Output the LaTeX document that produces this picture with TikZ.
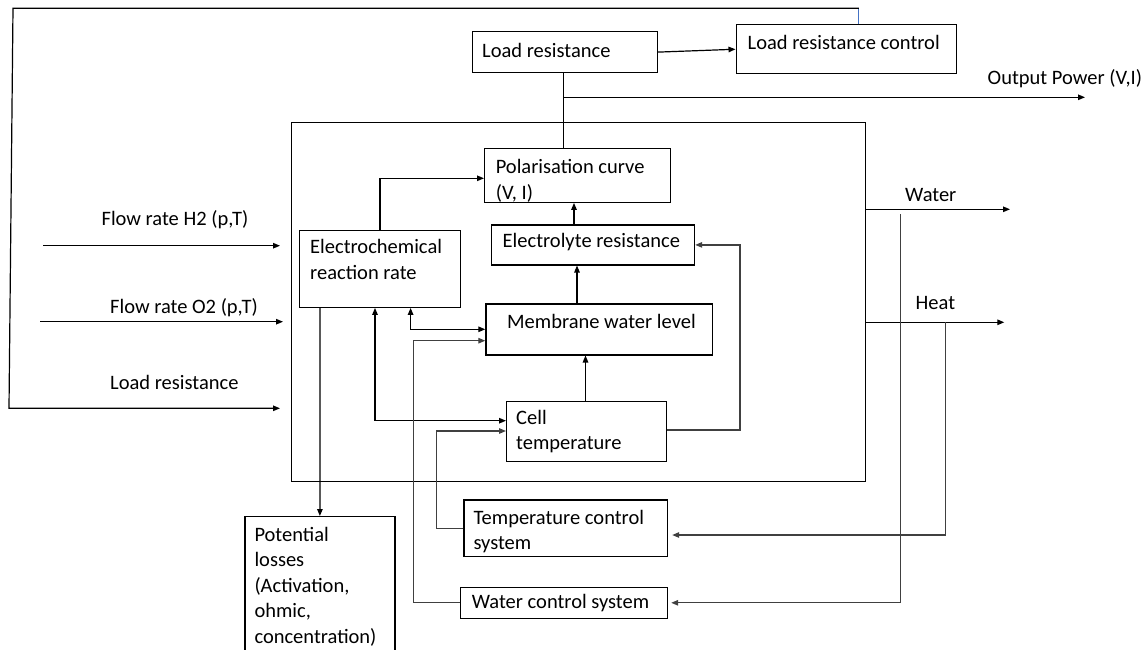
\documentclass[tikz,border=0pt]{standalone}
\usepackage{fontspec}
\setmainfont{Carlito}
\usetikzlibrary{arrows.meta}
\definecolor{lblue}{RGB}{68,114,196}
\begin{document}
\begin{tikzpicture}[x=1pt,y=-1pt,
  box/.style={draw, line width=1.2pt, inner sep=0pt, anchor=north west},
  txt/.style={anchor=north west, inner sep=0pt, align=left, font=\fontsize{20.5}{25.5}\selectfont},
  ln/.style={line width=1.2pt},
  arr/.style={line width=1.2pt, -{Triangle[length=7pt,width=5.5pt]}},
  dbl/.style={line width=1.2pt, {Triangle[length=7pt,width=5.5pt]}-{Triangle[length=7pt,width=5.5pt]}},
  fb/.style={draw=black!75},
]
\useasboundingbox (0,0) rectangle (1148,650);
% boxes
\node[box, minimum width=185pt, minimum height=41pt] (lr) at (472,31) {};
\node[box, minimum width=220.5pt, minimum height=48.7pt] (lrc) at (735.5,24.3) {};
\node[box, minimum width=573.5pt, minimum height=358.7pt] (main) at (291,122.3) {};
\node[box, minimum width=186pt, minimum height=54pt] (pol) at (484,147.7) {};
\node[box, minimum width=161pt, minimum height=76.7pt] (ec) at (299,230) {};
\node[box, minimum width=203pt, minimum height=40pt] (el) at (491,224.3) {};
\node[box, minimum width=226.7pt, minimum height=51pt] (mw) at (485.3,303.3) {};
\node[box, minimum width=159.7pt, minimum height=59.7pt] (ct) at (506,401) {};
\node[box, minimum width=203.7pt, minimum height=56.7pt] (tcs) at (463.3,499.3) {};
\node[box, minimum width=207pt, minimum height=31pt] (wcs) at (460,586.7) {};
\node[box, minimum width=150pt, minimum height=150pt] (pl) at (244.3,516) {};
% box texts
\node[txt] (lrT) at (482,39.5) {\strut Load resistance};
\node[txt] (lrcT) at (747.5,31.1) {\strut Load resistance control};
\node[txt] (polT) at (495.6,155.5) {\strut Polarisation curve\\(V, I)};
\node[txt] (ecT) at (310,235.5) {\strut Electrochemical\\reaction rate};
\node[txt] (elT) at (502.5,229.8) {\strut Electrolyte resistance};
\node[txt] (mwT) at (507,310.5) {\strut Membrane water level};
\node[txt] (ctT) at (516,406.1) {\strut Cell\\temperature};
\node[txt] (tcsT) at (473.3,506.1) {\strut Temperature control\\system};
\node[txt] (wcsT) at (471.7,590.5) {\strut Water control system};
\node[txt] (plT) at (254.3,523.1) {\strut Potential\\losses\\(Activation,\\ohmic,\\concentration)};
% free labels
\node[txt] (outT) at (987.5,66.1) {\strut Output Power (V,I)};
\node[txt] (waterT) at (905,183.8) {\strut Water};
\node[txt] (heatT) at (915.5,291.5) {\strut Heat};
\node[txt] (h2T) at (101.4,207.1) {\strut Flow rate H2 (p,T)};
\node[txt] (o2T) at (110,295.5) {\strut Flow rate O2 (p,T)};
\node[txt] (lrinT) at (110,371.5) {\strut Load resistance};
% free ends
\coordinate (h2s) at (43,245.7); \coordinate (h2e) at (280,245.7);
\coordinate (o2s) at (40,321.7); \coordinate (o2e) at (283,321.7);
\coordinate (lre) at (280,408.3);
\coordinate (tl) at (13,8.3); \coordinate (bl) at (9,408.3);
\coordinate (tr) at (858.9,8.3);
\coordinate (outE) at (1085,97.3);
\coordinate (waterE) at (1010,209.3);
\coordinate (heatE) at (1004.3,322.3);
% helper x positions
\coordinate (xtop) at (858.9,0);
\coordinate (xlr) at (563.7,0);
\coordinate (xecp) at (380,0);
\coordinate (xelp) at (574,0);
\coordinate (xmwe) at (577,0);
\coordinate (xctm) at (585.5,0);
\coordinate (xloop) at (740,0);
\coordinate (xect) at (375,0);
\coordinate (xecm) at (410.6,0);
\coordinate (xwcsv) at (413.3,0);
\coordinate (xtcsv) at (436.7,0);
\coordinate (xpl) at (320,0);
\coordinate (xwv) at (900.6,0);
\coordinate (xhv) at (945.5,0);
% helper y positions
\coordinate (yout) at (0,97.3);
\coordinate (ypol) at (0,178.3);
\coordinate (ywater) at (0,209.3);
\coordinate (yheat) at (0,322.3);
\coordinate (yctloop) at (0,430);
\coordinate (yect) at (0,420.7);
\coordinate (yecm) at (0,329.3);
\coordinate (ywcsm) at (0,340.7);
\coordinate (ytcsct) at (0,431);
\coordinate (yhv) at (0,535);
\coordinate (ywv) at (0,214);
% connectors
\draw[line width=0.9pt, draw=lblue] (xtop |- lrc.north) -- (tr);
\draw[arr] (tr) -- (tl) -- (bl) -- (lre);
\draw[arr] (h2s) -- (h2e);
\draw[arr] (o2s) -- (o2e);
\draw[arr] (lr.east) -- (lrc.west);
\draw[ln] (xlr |- lr.south) -- (xlr |- pol.north);
\draw[arr] (xlr |- yout) -- (outE);
\draw[arr] (xecp |- ec.north) -- (xecp |- ypol) -- (pol.west |- ypol);
\draw[arr] (xelp |- el.north) -- (xelp |- pol.south);
\draw[arr] (xmwe |- mw.north) -- (xmwe |- el.south);
\draw[arr] (xctm |- ct.north) -- (xctm |- mw.south);
\draw[arr, fb] (ct.east |- yctloop) -- (xloop |- yctloop) -- (xloop |- el.east) -- (el.east);
\draw[dbl] (xect |- ec.south) -- (xect |- yect) -- (ct.west |- yect);
\draw[dbl] (xecm |- ec.south) -- (xecm |- yecm) -- (mw.west |- yecm);
\draw[arr, fb] (wcs.west) -- (xwcsv |- wcs.west) -- (xwcsv |- ywcsm) -- (mw.west |- ywcsm);
\draw[arr, fb] (tcs.west) -- (xtcsv |- tcs.west) -- (xtcsv |- ytcsct) -- (ct.west |- ytcsct);
\draw[arr] (xpl |- ec.south) -- (pl.north);
\draw[arr] (main.east |- ywater) -- (waterE);
\draw[arr] (main.east |- yheat) -- (heatE);
\draw[arr, fb, shorten >=3pt] (xwv |- ywv) -- (xwv |- wcs.east) -- (wcs.east);
\draw[arr, fb, shorten >=4pt] (xhv |- yheat) -- (xhv |- yhv) -- (tcs.east |- yhv);
\end{tikzpicture}
\end{document}
